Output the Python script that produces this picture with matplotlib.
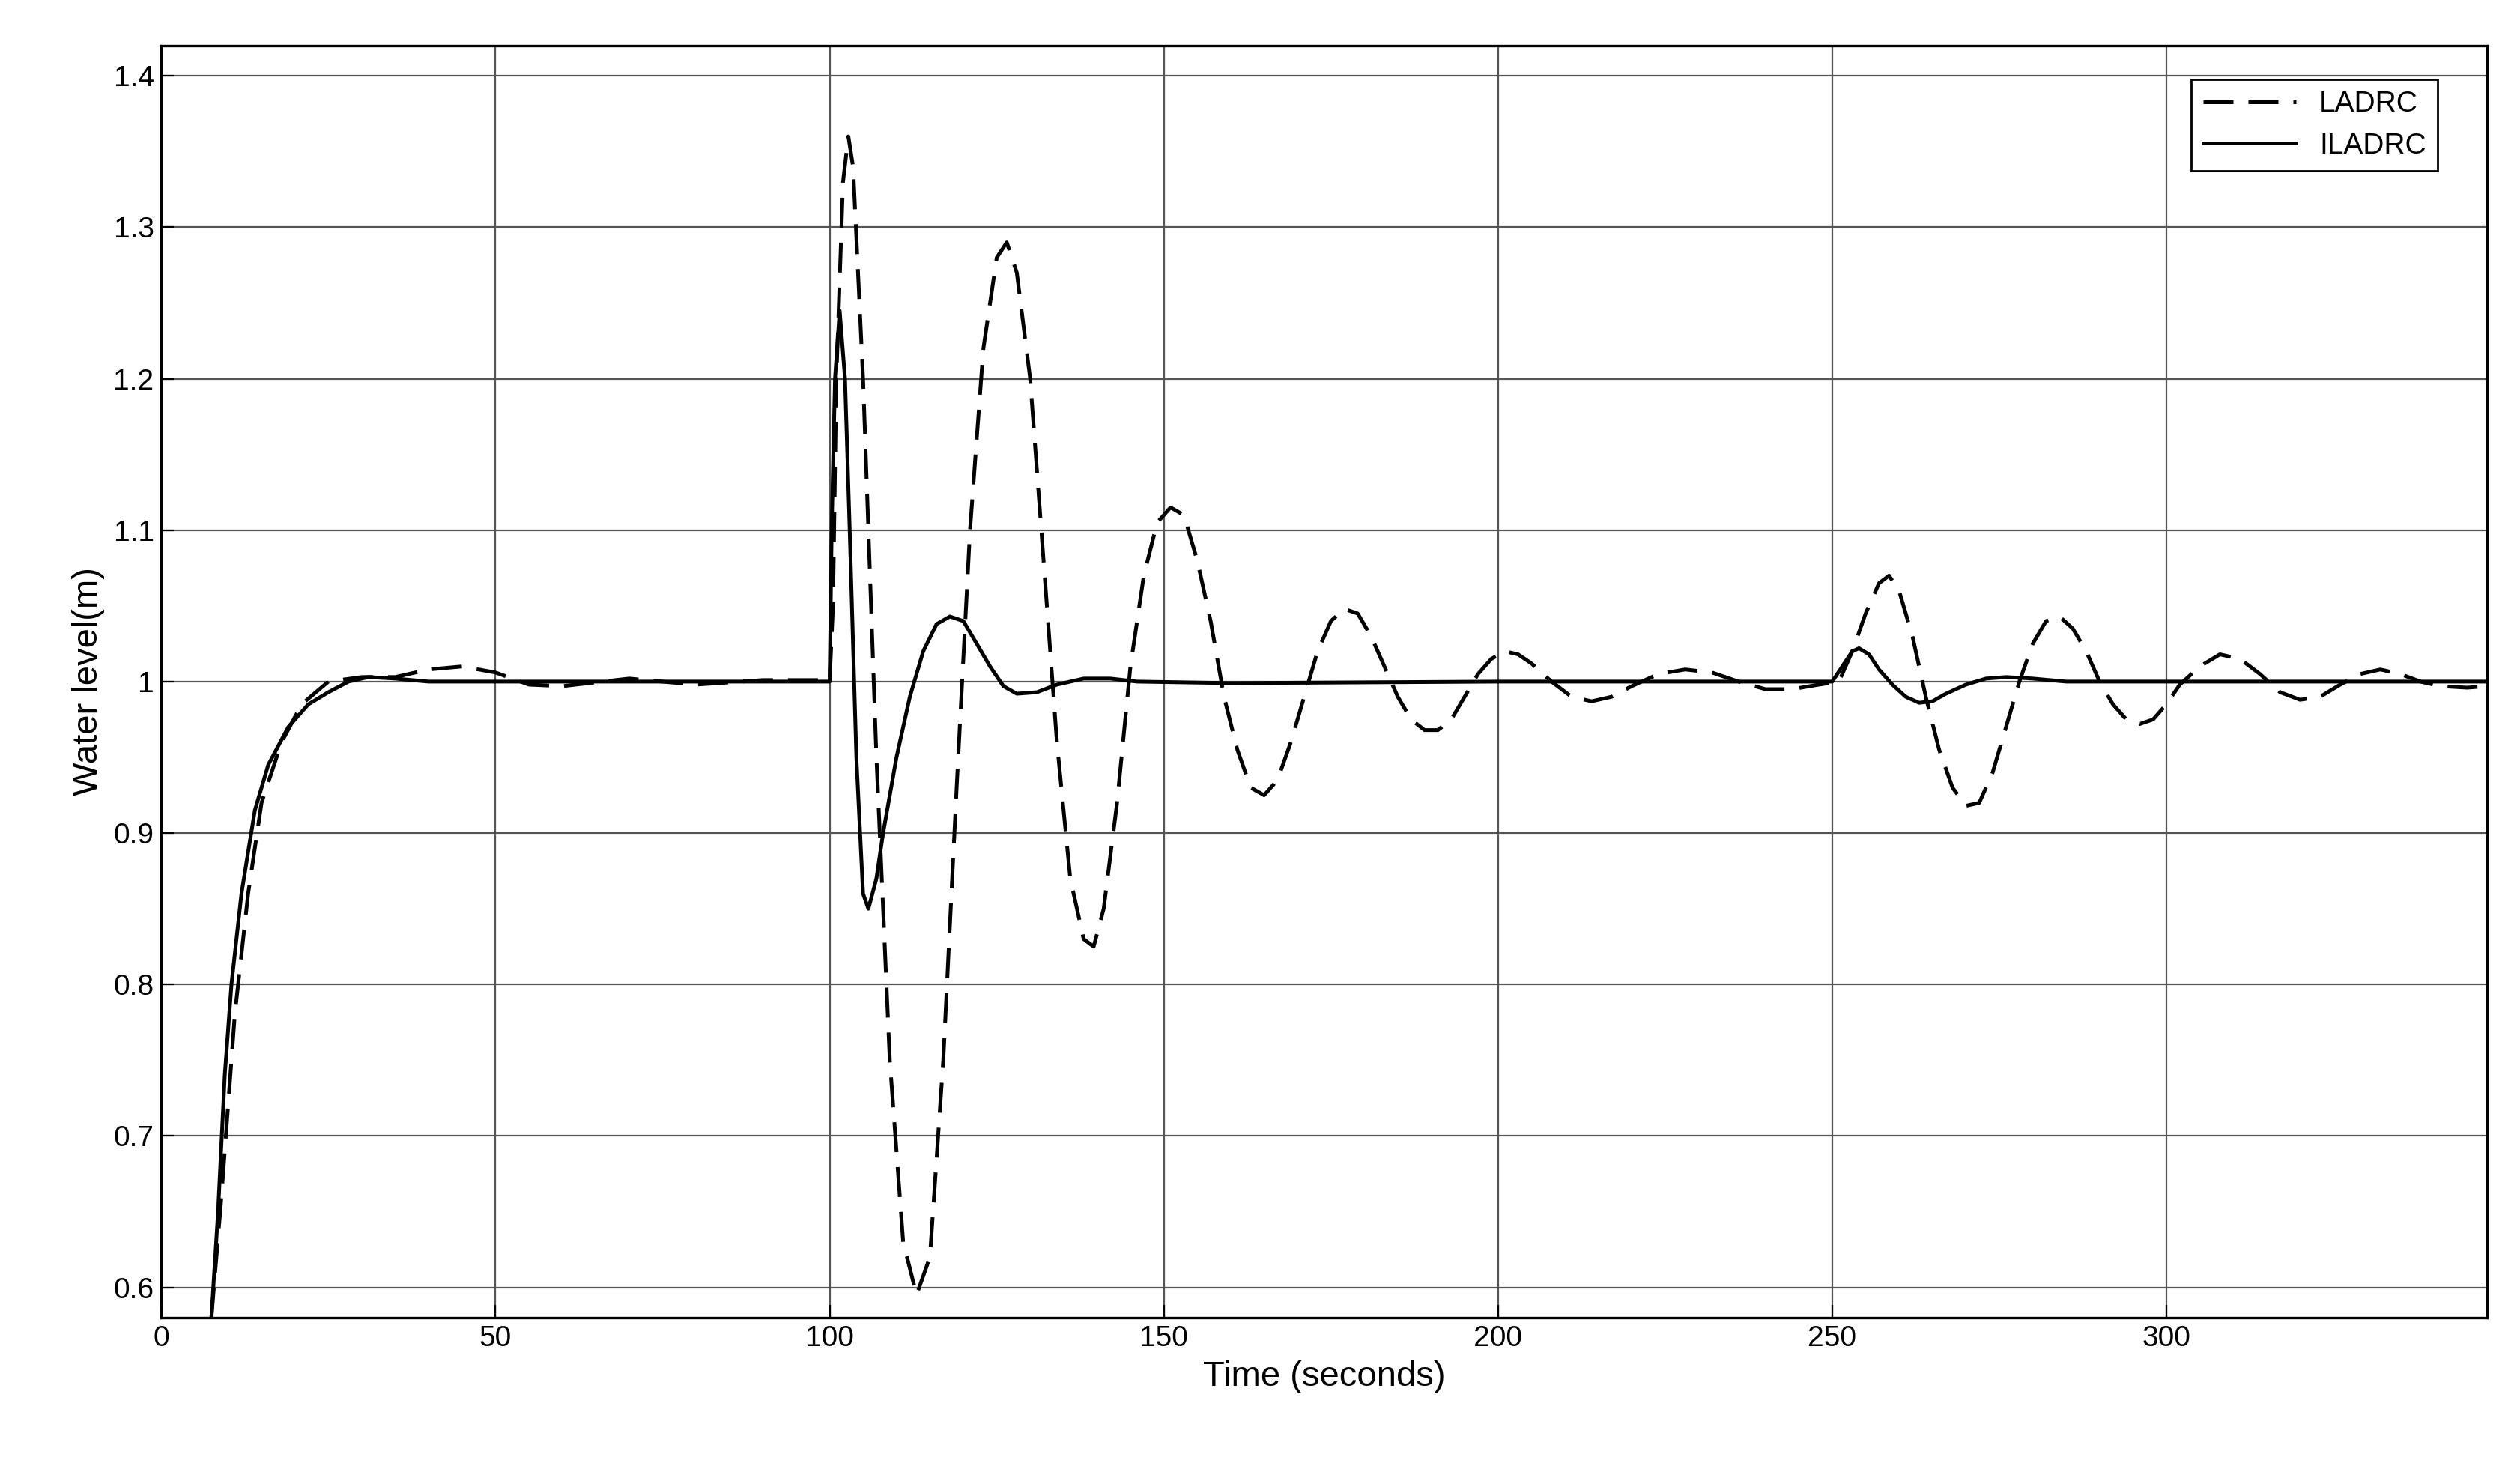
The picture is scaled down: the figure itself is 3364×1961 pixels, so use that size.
import matplotlib
matplotlib.use("Agg")
import matplotlib.pyplot as plt

plt.rcParams['font.family'] = ['Liberation Sans', 'DejaVu Sans']

ladrc_t = [7.5,9,11,13,15,18,21,25,30,35,40,45,50,55,60,70,80,90,100,100.5,101,102,102.8,103.5,105,107,109,111,113,115,117,119,121,123,125,126.5,128,130,132,134,136,138,139.5,141,143,145,147,149,151,153,155,157,159,161,163,165,167,169,171,173,175,177,179,181,183,185,187,189,191,193,195,197,199,201,203,205,208,211,214,217,220,224,228,232,236,240,244,248,251,253,255,257,258.5,260,262,264,266,268,270,272,274,276,278,280,282,284,286,288,290,292,294,296,298,300,302,305,308,311,314,317,320,323,326,329,332,335,338,341,345,348]
ladrc_y = [0.58,0.66,0.78,0.86,0.92,0.96,0.985,1.0,1.003,1.003,1.008,1.01,1.006,0.998,0.997,1.002,0.998,1.001,1.001,1.05,1.2,1.33,1.36,1.34,1.2,0.95,0.75,0.63,0.595,0.62,0.75,0.93,1.1,1.22,1.28,1.29,1.27,1.2,1.08,0.96,0.87,0.83,0.825,0.85,0.92,1.01,1.07,1.105,1.115,1.11,1.08,1.04,0.99,0.955,0.93,0.925,0.935,0.96,0.99,1.02,1.04,1.048,1.045,1.03,1.01,0.99,0.975,0.968,0.968,0.975,0.99,1.005,1.015,1.02,1.018,1.012,1.0,0.99,0.987,0.99,0.997,1.005,1.008,1.006,1.0,0.995,0.995,0.998,1.0,1.02,1.045,1.065,1.07,1.06,1.03,0.99,0.955,0.93,0.918,0.92,0.94,0.97,1.0,1.025,1.04,1.043,1.035,1.02,1.0,0.985,0.975,0.972,0.975,0.985,0.998,1.01,1.018,1.015,1.005,0.993,0.988,0.99,0.998,1.005,1.008,1.005,1.0,0.997,0.996,0.997]

iladrc_t = [7.5,8.5,9.5,10.5,12,14,16,19,22,25,28,31,35,40,60,100,100.3,100.8,101.5,102.3,103,104,105,105.8,107,108,110,112,114,116,118,120,122,124,126,128,131,134,138,142,146,160,200,250,251.5,253,254,255.5,257,259,261,263,265,267,270,273,276,280,285,348]
iladrc_y = [0.58,0.65,0.74,0.8,0.86,0.915,0.945,0.97,0.985,0.993,1.0,1.003,1.002,1.0,1.0,1.0,1.1,1.2,1.245,1.2,1.1,0.95,0.86,0.85,0.87,0.9,0.95,0.99,1.02,1.038,1.043,1.04,1.025,1.01,0.997,0.992,0.993,0.998,1.002,1.002,1.0,0.999,1.0,1.0,1.01,1.02,1.022,1.018,1.008,0.998,0.99,0.986,0.987,0.992,0.998,1.002,1.003,1.002,1.0,1.0]

xticks = [0,50,100,150,200,250,300]
yticks = [0.6,0.7,0.8,0.9,1.0,1.1,1.2,1.3,1.4]
ytick_labels = ["0.6","0.7","0.8","0.9","1","1.1","1.2","1.3","1.4"]

fig = plt.figure(figsize=(16.82, 9.805), dpi=200)
ax = fig.add_axes([0.064, 0.103, 0.923, 0.866])
ax.plot(ladrc_t, ladrc_y, color="black", lw=1.8, ls=(0, (8, 4)), label="LADRC")
ax.plot(iladrc_t, iladrc_y, color="black", lw=1.8, label="ILADRC")
ax.set_xlim(0, 348)
ax.set_ylim(0.58, 1.42)
ax.set_xticks(xticks)
ax.set_yticks(yticks)
ax.set_yticklabels(ytick_labels)
ax.grid(True, color="#555555", lw=0.8)
ax.tick_params(direction="in", labelsize=14, length=6)
ax.set_xlabel("Time (seconds)", fontsize=17)
ax.set_ylabel("Water level(m)", fontsize=17)
for s in ax.spines.values():
    s.set_linewidth(1.2)
leg = ax.legend(loc="upper right", fontsize=14, fancybox=False, framealpha=1,
                edgecolor="black", handlelength=3.2, bbox_to_anchor=(0.985, 0.985))
leg.get_frame().set_linewidth(1.0)
fig.savefig("out.png", dpi=200, facecolor="white")
